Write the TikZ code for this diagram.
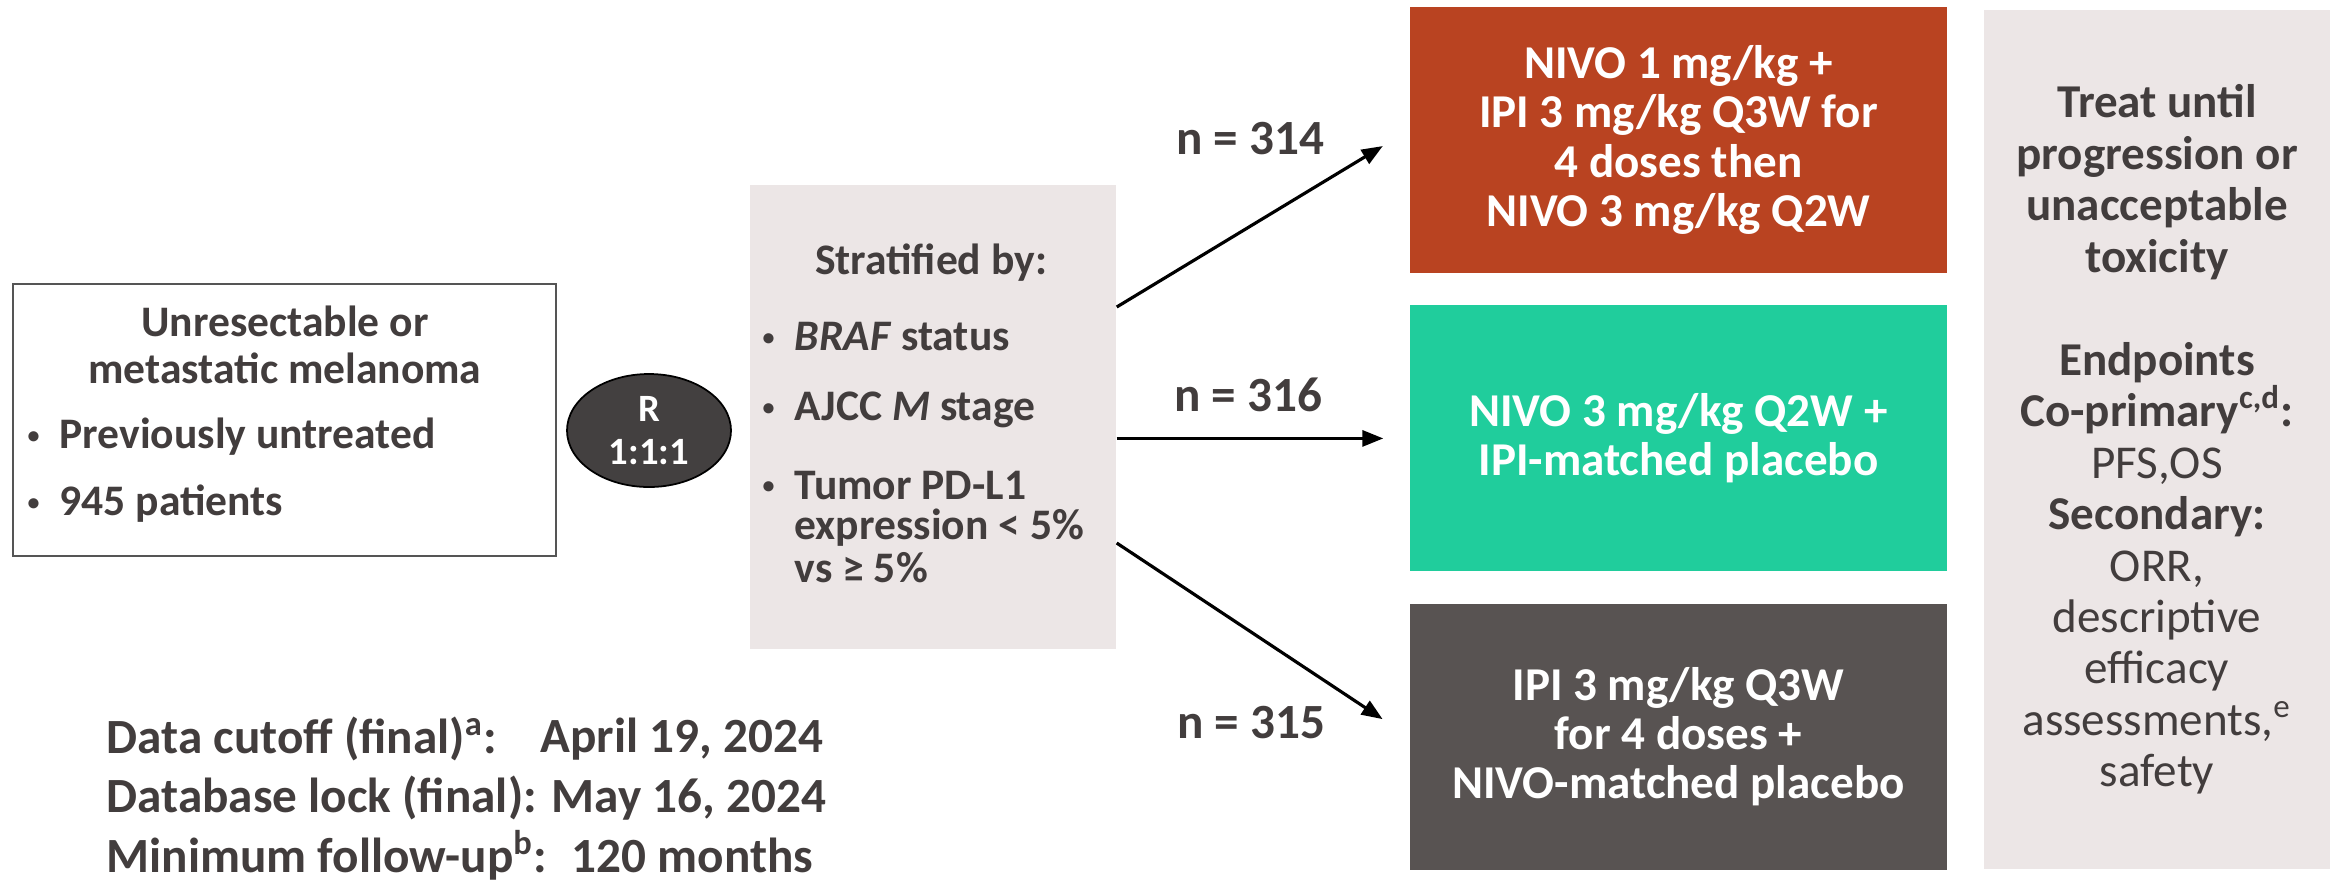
\documentclass[tikz,border=0pt]{standalone}
\usepackage{fontspec}
\setmainfont{Carlito}
\usepackage{graphicx}
\usepackage{xcolor}
\usepackage{tikz}
\usetikzlibrary{arrows.meta, positioning, shapes.geometric}
\definecolor{inkgray}{RGB}{66,61,61}
\definecolor{framegray}{RGB}{85,85,85}
\definecolor{armorange}{RGB}{185,67,33}
\definecolor{armgreen}{RGB}{32,205,156}
\definecolor{armgray}{RGB}{88,83,82}
\definecolor{panelgray}{RGB}{236,230,230}
\definecolor{randgray}{RGB}{67,64,64}
\newcommand{\bul}{\makebox[3.2mm][l]{\raisebox{0.12em}{\scalebox{0.55}{\textbullet}}}}

\begin{document}
\begin{tikzpicture}[
  node distance=0.31cm,
  txt/.style={text=inkgray, inner sep=0pt,
    font=\bfseries\fontsize{12.4}{13.4}\selectfont},
  frame/.style={rectangle, draw=framegray, line width=0.8pt,
    minimum width=5.43cm, minimum height=2.72cm},
  panel/.style={rectangle, fill=panelgray, inner sep=0pt},
  rand/.style={ellipse, draw=black, line width=0.5pt, fill=randgray,
    minimum width=1.64cm, minimum height=1.13cm, inner sep=0pt,
    align=center, text=white, font=\bfseries\fontsize{11}{12}\selectfont},
  arm/.style={rectangle, minimum width=5.37cm, minimum height=2.66cm,
    inner sep=0pt, align=center, text=white,
    font=\bfseries\fontsize{13.4}{14}\selectfont},
  nlab/.style={text=inkgray, inner sep=0pt,
    font=\bfseries\fontsize{14}{16}\selectfont},
  foot/.style={text=inkgray, inner sep=0pt, anchor=west,
    font=\bfseries\fontsize{14}{16}\selectfont},
  arrow/.style={-{Triangle[length=2.1mm, width=1.6mm]}, line width=0.9pt, black}
]
  \useasboundingbox (0,0) rectangle (23.38,-8.82);

  \node[frame] (patient) at (2.845,-4.20) {};
  \node[txt, align=center] (disease) at (2.85,-3.445) {Unresectable or\\metastatic melanoma};
  \node[txt, anchor=west] (untreated) at (0.27,-4.37) {\bul Previously untreated};
  \node[txt, anchor=west] (count) at (0.27,-5.04) {\bul 945 patients};

  \node[rand] (rand) at (6.49,-4.305) {R\\1:1:1};

  \node[panel, minimum width=3.66cm, minimum height=4.64cm] (strat) at (9.33,-4.17) {};
  \node[txt] (stratby) at (9.31,-2.63) {Stratified by:};
  \node[txt, anchor=west] (braf) at (7.62,-3.37) {\bul\textit{BRAF} status};
  \node[txt, anchor=west] (ajcc) at (7.62,-4.10) {\bul AJCC \textit{M} stage};
  \node[txt, anchor=west] (pdl1) at (7.62,-4.85) {\bul Tumor PD-L1};
  \node[txt, anchor=west] (pdlexp) at (7.94,-5.28) {expression < 5\%};
  \node[txt, anchor=west] (pdlvs) at (7.94,-5.68) {vs ≥ 5\%};

  \node[arm, fill=armorange] (arm1) at (16.785,-1.40) {NIVO 1 mg/kg +\\IPI 3 mg/kg Q3W for\\4 doses then\\NIVO 3 mg/kg Q2W};
  \node[arm, fill=armgreen, below=of arm1] (arm2) {NIVO 3 mg/kg Q2W +\\IPI-matched placebo};
  \node[arm, fill=armgray, below=of arm2] (arm3) {IPI 3 mg/kg Q3W\\for 4 doses +\\NIVO-matched placebo};

  \node[panel, minimum width=3.46cm, minimum height=8.59cm, align=center, text=inkgray,
    font=\bfseries\fontsize{13.4}{14.65}\selectfont] (endpoints) at (21.57,-4.395)
    {Treat until\\progression or\\unacceptable\\toxicity\\[5.15mm]
     Endpoints\\Co-primary\textsuperscript{c,d}:\\{\mdseries PFS,OS}\\Secondary:\\
     {\mdseries ORR,}\\{\mdseries descriptive}\\{\mdseries efficacy}\\
     {\mdseries assessments,\textsuperscript{e}}\\{\mdseries safety}};

  \node[nlab] (n314) at (12.50,-1.39) {n = 314};
  \node[nlab] (n316) at (12.48,-3.95) {n = 316};
  \node[nlab] (n315) at (12.51,-7.23) {n = 315};

  \draw[arrow, shorten >=3.1mm] ([yshift=11mm]strat.east) -- ([yshift=1mm]arm1.west);
  \draw[arrow, shorten >=2.6mm] (strat.east |- arm2.west) -- (arm2.west);
  \draw[arrow, shorten >=3.2mm] ([yshift=-12.6mm]strat.east) -- (arm3.west);

  \node[foot] (cutoff) at (1.06,-7.39) {Data cutoff (final)\textsuperscript{a}:};
  \node[foot] (cutoffdate) at (5.40,-7.39) {April 19, 2024};
  \node[foot] (dblock) at (1.06,-7.98) {Database lock (final): May 16, 2024};
  \node[foot] (followup) at (1.06,-8.55) {Minimum follow-up\textsuperscript{b}:};
  \node[foot] (followupval) at (5.71,-8.55) {120 months};
\end{tikzpicture}
\end{document}
